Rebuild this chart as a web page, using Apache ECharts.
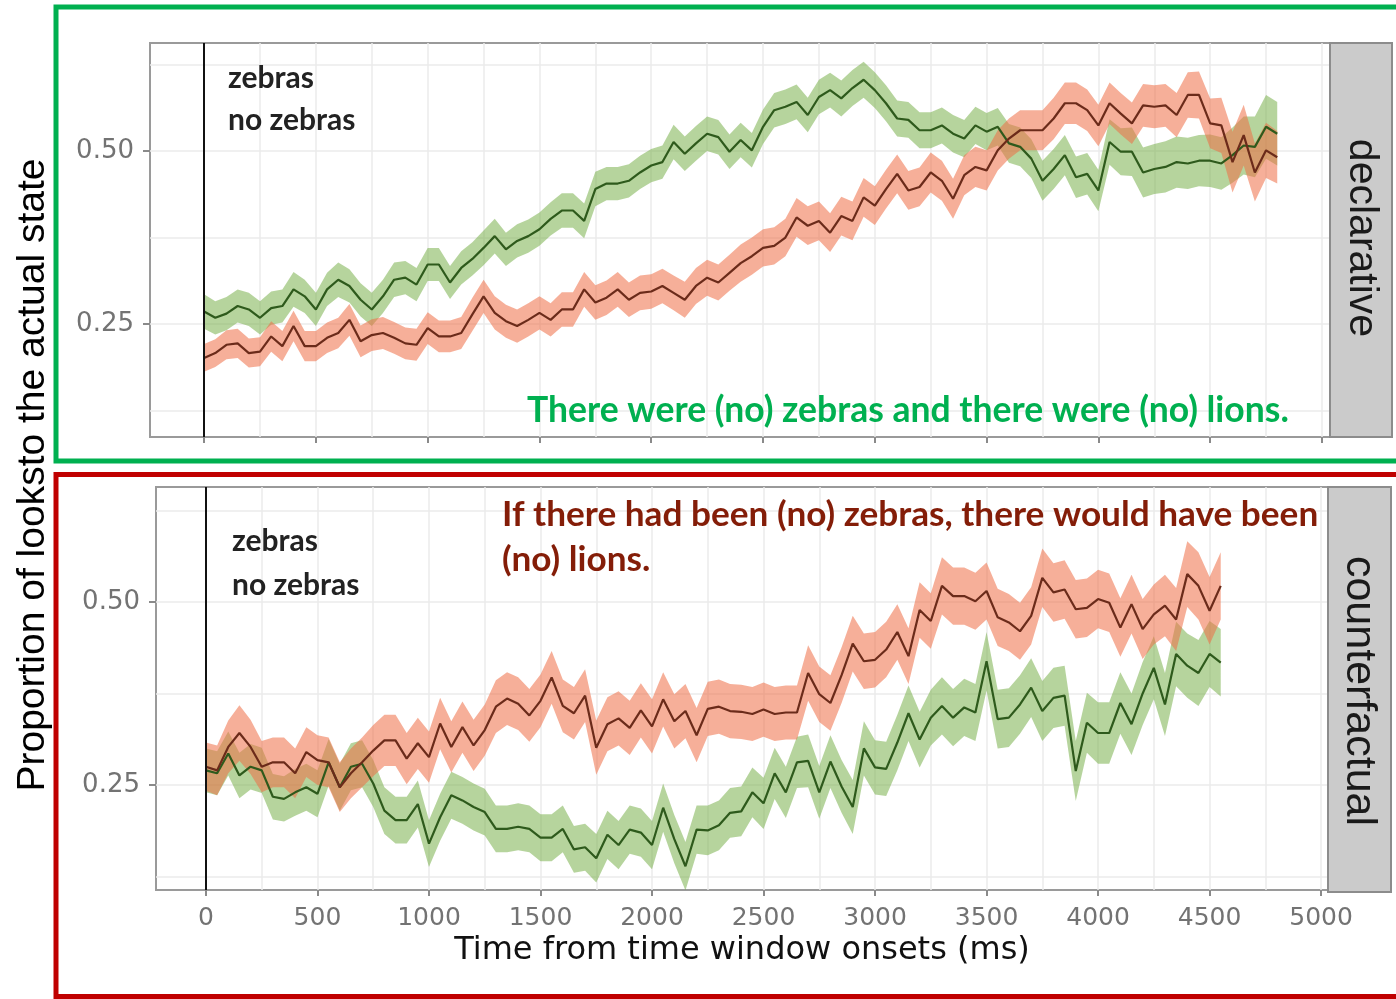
<!DOCTYPE html>
<html><head><meta charset="utf-8">
<script src="https://cdn.jsdelivr.net/npm/echarts@6/dist/echarts.min.js"></script>
<style>html,body{margin:0;padding:0;background:#fff}#c{width:1396px;height:999px}</style>
</head><body><div id="c"></div>
<script>
// ---------------- data ----------------
const timesTop = [0,50,100,150,200,250,300,350,400,450,500,550,600,650,700,750,800,850,900,950,1000,1050,1100,1150,1200,1250,1300,1350,1400,1450,1500,1550,1600,1650,1700,1750,1800,1850,1900,1950,2000,2050,2100,2150,2200,2250,2300,2350,2400,2450,2500,2550,2600,2650,2700,2750,2800,2850,2900,2950,3000,3050,3100,3150,3200,3250,3300,3350,3400,3450,3500,3550,3600,3650,3700,3750,3800,3850,3900,3950,4000,4050,4100,4150,4200,4250,4300,4350,4400,4450,4500,4550,4600,4650,4700,4750,4800];
const timesBot = [0,50,100,150,200,250,300,350,400,450,500,550,600,650,700,750,800,850,900,950,1000,1050,1100,1150,1200,1250,1300,1350,1400,1450,1500,1550,1600,1650,1700,1750,1800,1850,1900,1950,2000,2050,2100,2150,2200,2250,2300,2350,2400,2450,2500,2550,2600,2650,2700,2750,2800,2850,2900,2950,3000,3050,3100,3150,3200,3250,3300,3350,3400,3450,3500,3550,3600,3650,3700,3750,3800,3850,3900,3950,4000,4050,4100,4150,4200,4250,4300,4350,4400,4450,4500,4550];

// declarative panel
const zebrasTop = [0.268,0.259,0.265,0.276,0.271,0.259,0.273,0.276,0.300,0.290,
 0.271,0.300,0.314,0.305,0.285,0.271,0.290,0.314,0.317,0.307,
 0.336,0.336,0.310,0.331,0.344,0.360,0.377,0.358,0.370,0.377,
 0.387,0.402,0.414,0.414,0.399,0.445,0.453,0.453,0.457,0.469,
 0.479,0.484,0.513,0.496,0.511,0.525,0.520,0.499,0.516,0.501,
 0.535,0.559,0.564,0.571,0.552,0.578,0.588,0.576,0.591,0.603,
 0.588,0.569,0.547,0.545,0.530,0.530,0.537,0.525,0.518,0.537,
 0.528,0.535,0.511,0.506,0.489,0.457,0.474,0.494,0.462,0.467,
 0.443,0.513,0.499,0.499,0.469,0.474,0.477,0.484,0.482,0.486,
 0.486,0.482,0.494,0.508,0.506,0.535,0.525];
const zebrasTopSe = [0.025,0.024,0.024,0.024,0.024,0.024,0.024,0.024,0.025,0.024,
 0.024,0.024,0.025,0.024,0.024,0.024,0.024,0.025,0.024,0.024,
 0.024,0.024,0.024,0.024,0.024,0.025,0.025,0.024,0.024,0.024,
 0.024,0.024,0.025,0.025,0.025,0.025,0.024,0.024,0.024,0.024,
 0.024,0.024,0.025,0.025,0.025,0.025,0.025,0.025,0.025,0.025,
 0.025,0.025,0.025,0.025,0.025,0.025,0.025,0.026,0.026,0.026,
 0.026,0.026,0.026,0.026,0.026,0.026,0.026,0.027,0.027,0.027,
 0.027,0.027,0.028,0.028,0.028,0.029,0.029,0.029,0.030,0.030,
 0.030,0.033,0.034,0.035,0.036,0.036,0.037,0.037,0.037,0.037,
 0.038,0.038,0.040,0.042,0.044,0.046,0.046];
const noZebrasTop = [0.201,0.208,0.220,0.222,0.208,0.210,0.232,0.218,0.247,0.218,
 0.218,0.230,0.237,0.256,0.225,0.234,0.237,0.230,0.222,0.220,
 0.244,0.232,0.232,0.237,0.264,0.290,0.266,0.254,0.247,0.256,
 0.266,0.256,0.271,0.271,0.300,0.281,0.288,0.300,0.285,0.295,
 0.297,0.305,0.295,0.285,0.305,0.317,0.310,0.324,0.338,0.348,
 0.360,0.363,0.375,0.404,0.392,0.399,0.382,0.406,0.399,0.433,
 0.421,0.445,0.467,0.443,0.448,0.469,0.457,0.431,0.465,0.477,
 0.472,0.501,0.518,0.530,0.530,0.530,0.547,0.569,0.569,0.559,
 0.537,0.569,0.554,0.540,0.566,0.564,0.566,0.552,0.581,0.581,
 0.540,0.537,0.484,0.523,0.469,0.501,0.491];
const noZebrasTopSe = [0.020,0.020,0.021,0.021,0.021,0.021,0.022,0.022,0.022,0.022,
 0.022,0.022,0.022,0.023,0.023,0.023,0.023,0.023,0.023,0.023,
 0.023,0.023,0.023,0.023,0.024,0.024,0.024,0.024,0.024,0.024,
 0.024,0.024,0.025,0.025,0.025,0.025,0.025,0.025,0.025,0.025,
 0.025,0.025,0.025,0.026,0.026,0.026,0.026,0.026,0.027,0.027,
 0.027,0.027,0.027,0.028,0.028,0.028,0.028,0.028,0.028,0.028,
 0.028,0.028,0.028,0.028,0.028,0.029,0.029,0.029,0.029,0.029,
 0.029,0.029,0.029,0.029,0.029,0.029,0.030,0.030,0.030,0.030,
 0.030,0.030,0.030,0.030,0.031,0.031,0.031,0.032,0.033,0.034,
 0.036,0.040,0.044,0.044,0.042,0.040,0.038];

// counterfactual panel
const zebrasBot = [0.270,0.266,0.293,0.263,0.275,0.270,0.234,0.231,0.240,0.247,
 0.238,0.281,0.247,0.275,0.279,0.252,0.215,0.202,0.202,0.224,
 0.170,0.206,0.236,0.229,0.220,0.213,0.190,0.190,0.193,0.190,
 0.178,0.178,0.190,0.162,0.165,0.150,0.182,0.168,0.189,0.185,
 0.168,0.219,0.176,0.139,0.189,0.188,0.195,0.212,0.214,0.240,
 0.225,0.266,0.240,0.281,0.283,0.240,0.282,0.248,0.220,0.300,
 0.274,0.272,0.308,0.348,0.312,0.342,0.358,0.342,0.356,0.349,
 0.419,0.340,0.342,0.360,0.383,0.351,0.369,0.372,0.269,0.335,
 0.321,0.321,0.362,0.333,0.375,0.410,0.360,0.429,0.413,0.403,
 0.429,0.417];
const zebrasBotSe = [0.030,0.030,0.030,0.031,0.031,0.031,0.031,0.031,0.032,0.032,
 0.032,0.032,0.032,0.032,0.032,0.032,0.032,0.032,0.032,0.032,
 0.032,0.032,0.032,0.032,0.032,0.032,0.032,0.032,0.032,0.032,
 0.032,0.032,0.032,0.032,0.032,0.033,0.033,0.033,0.033,0.033,
 0.033,0.033,0.033,0.033,0.033,0.034,0.034,0.034,0.034,0.034,
 0.035,0.035,0.035,0.035,0.036,0.036,0.036,0.036,0.037,0.037,
 0.037,0.037,0.038,0.038,0.038,0.038,0.039,0.039,0.039,0.039,
 0.040,0.040,0.040,0.040,0.040,0.041,0.041,0.041,0.041,0.041,
 0.042,0.042,0.042,0.042,0.043,0.043,0.043,0.044,0.044,0.045,
 0.045,0.046];
const noZebrasBot = [0.275,0.270,0.302,0.321,0.302,0.275,0.281,0.281,0.266,0.295,
 0.284,0.281,0.247,0.266,0.281,0.297,0.311,0.311,0.286,0.307,
 0.288,0.334,0.302,0.329,0.304,0.325,0.357,0.368,0.361,0.345,
 0.365,0.397,0.358,0.348,0.372,0.301,0.333,0.341,0.328,0.352,
 0.330,0.367,0.337,0.351,0.318,0.354,0.357,0.351,0.350,0.347,
 0.353,0.347,0.349,0.349,0.403,0.374,0.362,0.400,0.443,0.419,
 0.421,0.435,0.459,0.426,0.489,0.474,0.522,0.508,0.508,0.501,
 0.515,0.479,0.472,0.460,0.481,0.533,0.513,0.517,0.490,0.492,
 0.504,0.499,0.465,0.497,0.463,0.483,0.495,0.476,0.538,0.522,
 0.488,0.522];
const noZebrasBotSe = [0.033,0.034,0.036,0.038,0.037,0.035,0.034,0.034,0.034,0.034,
 0.034,0.034,0.034,0.034,0.034,0.035,0.035,0.035,0.035,0.035,
 0.035,0.035,0.035,0.035,0.035,0.035,0.036,0.036,0.036,0.036,
 0.036,0.036,0.036,0.036,0.036,0.037,0.037,0.037,0.037,0.037,
 0.037,0.037,0.037,0.037,0.037,0.037,0.037,0.037,0.037,0.037,
 0.037,0.037,0.037,0.037,0.038,0.038,0.038,0.038,0.038,0.038,
 0.038,0.038,0.038,0.038,0.038,0.038,0.039,0.039,0.039,0.039,
 0.039,0.039,0.039,0.039,0.039,0.040,0.040,0.040,0.040,0.040,
 0.040,0.040,0.040,0.040,0.041,0.041,0.042,0.043,0.045,0.046,
 0.046,0.046];

const xTickValues = [0,500,1000,1500,2000,2500,3000,3500,4000,4500,5000];
const xGridValues = [0,250,500,750,1000,1250,1500,1750,2000,2250,2500,2750,3000,3250,3500,3750,4000,4250,4500,4750,5000];
const yTickValues = [0.25,0.50];
const yGridValues = [0.125,0.25,0.375,0.50,0.625];
const facetLabels = ['declarative','counterfactual'];
const groupLabels = ['zebras','no zebras'];
const xTitle = 'Time from time window onsets (ms)';
const yTitle = 'Proportion of looksto the actual state';
const topNote = 'There were (no) zebras and there were (no) lions.';
const botNote = ['If there had been (no) zebras, there would have been','(no) lions.'];

// ---------------- styling ----------------
const GREEN_FILL = 'rgba(110,170,60,0.5)';
const RED_FILL = 'rgba(239,110,70,0.55)';
const GREEN_LINE = '#2e5a1c';
const RED_LINE = '#6b2b1a';
const GRIDC = '#ebebeb';
const TICKC = '#8a8a8a';
const LABELC = '#737373';

const chart = echarts.init(document.getElementById('c'), null, {renderer:'canvas'});

function xAxisPair(gi, min, max, showLabels) {
  return [
    { gridIndex: gi, type:'value', min, max, position:'bottom',
      axisLine:{show:false, onZero:false},
      axisTick:{show:true, length:6, lineStyle:{color:TICKC, width:2}, customValues:xTickValues},
      axisLabel:{show:showLabels, customValues:xTickValues, color:LABELC, fontSize:25, fontFamily:'DejaVu Sans', margin:16,
        formatter: v => String(v)},
      splitLine:{show:false},
      name: showLabels ? xTitle : '', nameLocation:'middle', nameGap:45,
      nameTextStyle:{color:'#111', fontSize:32, fontFamily:'DejaVu Sans'} },
    { gridIndex: gi, type:'value', min, max, position:'bottom',
      axisLine:{show:false, onZero:false}, axisTick:{show:false, customValues:xGridValues},
      axisLabel:{show:false, customValues:xGridValues},
      splitLine:{show:true, lineStyle:{color:GRIDC, width:1.5}} }
  ];
}
function yAxisPair(gi, min, max) {
  return [
    { gridIndex: gi, type:'value', min, max, position:'left',
      axisLine:{show:false, onZero:false},
      axisTick:{show:true, length:7, lineStyle:{color:TICKC, width:2}, customValues:yTickValues},
      axisLabel:{show:true, customValues:yTickValues, color:LABELC, fontSize:26, fontFamily:'DejaVu Sans', margin:16,
        formatter: v => v.toFixed(2)},
      splitLine:{show:false} },
    { gridIndex: gi, type:'value', min, max, position:'left',
      axisLine:{show:false, onZero:false}, axisTick:{show:false, customValues:yGridValues},
      axisLabel:{show:false, customValues:yGridValues},
      splitLine:{show:true, lineStyle:{color:GRIDC, width:1.5}} }
  ];
}

function ribbon(times, mean, se, xi, yi, color) {
  return {
    type:'custom', xAxisIndex:xi, yAxisIndex:yi, silent:true, z:2, clip:true,
    data: times.map((t,i) => [t, mean[i]-se[i], mean[i]+se[i]]),
    encode:{x:0, y:[1,2]},
    renderItem: function(params, api) {
      if (params.dataIndex !== 0) return null;
      const up = [], lo = [];
      for (let i = 0; i < times.length; i++) {
        up.push(api.coord([times[i], mean[i] + se[i]]));
        lo.push(api.coord([times[i], mean[i] - se[i]]));
      }
      return { type:'polygon', shape:{points: up.concat(lo.reverse())}, style:{fill:color} };
    }
  };
}
function meanLine(times, mean, xi, yi, color, withVline) {
  const s = {
    type:'line', xAxisIndex:xi, yAxisIndex:yi, silent:true, z:3,
    data: times.map((t,i) => [t, mean[i]]),
    showSymbol:false, symbol:'none', lineStyle:{color, width:2.2}
  };
  if (withVline) {
    s.markLine = { silent:true, symbol:'none', label:{show:false},
      lineStyle:{color:'#111', width:2, type:'solid'}, data:[{xAxis:0}] };
  }
  return s;
}

const legendFont = {fontFamily:'Lato', fontWeight:'bold', fontSize:30, fill:'#222'};
const noteFont = {fontFamily:'Lato', fontWeight:'bold', verticalAlign:'middle'};

const option = {
  animation:false,
  backgroundColor:'#ffffff',
  grid:[
    {left:150, top:43, width:1180, height:394, show:true, backgroundColor:'#fff', borderColor:'#9a9a9a', borderWidth:2},
    {left:156, top:487, width:1172, height:403, show:true, backgroundColor:'#fff', borderColor:'#9a9a9a', borderWidth:2}
  ],
  xAxis: [].concat(xAxisPair(0, -242, 5036, false), xAxisPair(1, -224, 5031, true)),
  yAxis: [].concat(yAxisPair(0, 0.0867, 0.6561), yAxisPair(1, 0.1066, 0.657)),
  series: [
    ribbon(timesTop, zebrasTop, zebrasTopSe, 0, 0, GREEN_FILL),
    ribbon(timesTop, noZebrasTop, noZebrasTopSe, 0, 0, RED_FILL),
    meanLine(timesTop, zebrasTop, 0, 0, GREEN_LINE, true),
    meanLine(timesTop, noZebrasTop, 0, 0, RED_LINE, false),
    ribbon(timesBot, zebrasBot, zebrasBotSe, 2, 2, GREEN_FILL),
    ribbon(timesBot, noZebrasBot, noZebrasBotSe, 2, 2, RED_FILL),
    meanLine(timesBot, zebrasBot, 2, 2, GREEN_LINE, true),
    meanLine(timesBot, noZebrasBot, 2, 2, RED_LINE, false)
  ],
  graphic: [
    // facet strips
    {type:'rect', shape:{x:1330, y:43, width:62, height:394}, style:{fill:'#cbcbcb', stroke:'#8c8c8c', lineWidth:2}, z:10},
    {type:'text', x:1361, y:238, rotation:-Math.PI/2, style:{text:facetLabels[0], fontFamily:'Liberation Sans', fontSize:41, fill:'#1a1a1a', align:'center', verticalAlign:'middle'}, z:11},
    {type:'rect', shape:{x:1328, y:487, width:63, height:405}, style:{fill:'#cbcbcb', stroke:'#8c8c8c', lineWidth:2}, z:10},
    {type:'text', x:1359, y:691, rotation:-Math.PI/2, style:{text:facetLabels[1], fontFamily:'Liberation Sans', fontSize:43, fill:'#1a1a1a', align:'center', verticalAlign:'middle'}, z:11},
    // y title
    {type:'text', x:33, y:475, rotation:Math.PI/2, style:{text:yTitle, fontFamily:'Liberation Sans', fontSize:39, fill:'#000', align:'center', verticalAlign:'middle'}, z:11},
    // group labels
    {type:'text', x:228, y:78, style:Object.assign({text:groupLabels[0], verticalAlign:'middle'}, legendFont), z:11},
    {type:'text', x:228, y:120, style:Object.assign({text:groupLabels[1], verticalAlign:'middle'}, legendFont), z:11},
    {type:'text', x:232, y:541, style:Object.assign({text:groupLabels[0], verticalAlign:'middle'}, legendFont), z:11},
    {type:'text', x:232, y:585, style:Object.assign({text:groupLabels[1], verticalAlign:'middle'}, legendFont), z:11},
    // notes
    {type:'text', x:527, y:411, style:Object.assign({text:topNote, fill:'#00b050', fontSize:35.5}, noteFont), z:11},
    {type:'text', x:502, y:515, style:Object.assign({text:botNote[0], fill:'#841d08', fontSize:35.2}, noteFont), z:11},
    {type:'text', x:502, y:560, style:Object.assign({text:botNote[1], fill:'#841d08', fontSize:35.2}, noteFont), z:11},
    // outline boxes
    {type:'rect', shape:{x:56, y:7, width:1400, height:454}, style:{fill:'none', stroke:'#00b050', lineWidth:5}, z:12},
    {type:'rect', shape:{x:56, y:474.5, width:1400, height:522}, style:{fill:'none', stroke:'#c00000', lineWidth:5}, z:12}
  ]
};
chart.setOption(option);
</script>
</body></html>
